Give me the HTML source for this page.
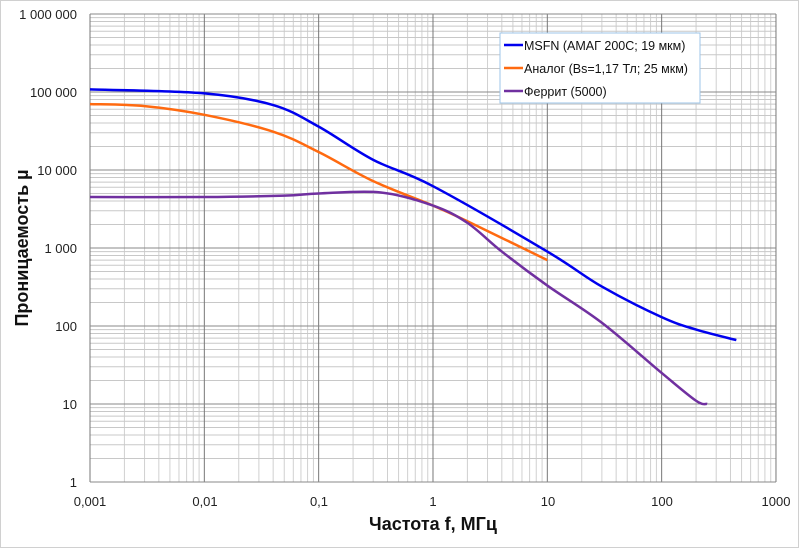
<!DOCTYPE html>
<html><head><meta charset="utf-8"><style>
body{margin:0;background:#fff;width:800px;height:549px;overflow:hidden}
svg{display:block;font-family:"Liberation Sans","DejaVu Sans",sans-serif}
</style></head><body>
<svg id="s" width="800" height="549" xmlns="http://www.w3.org/2000/svg">
<rect x="0.5" y="0.5" width="798" height="547" fill="#fff" stroke="#d0d0d0"/>
<g id="grid"></g>
<g id="curves"></g>
<g font-size="13" fill="#222" text-anchor="end">
<text x="77" y="19">1 000 000</text>
<text x="77" y="97">100 000</text>
<text x="77" y="175">10 000</text>
<text x="77" y="253">1 000</text>
<text x="77" y="331">100</text>
<text x="77" y="409">10</text>
<text x="77" y="487">1</text>
</g>
<g font-size="13" fill="#222" text-anchor="middle">
<text x="90" y="506">0,001</text>
<text x="205" y="506">0,01</text>
<text x="319" y="506">0,1</text>
<text x="433" y="506">1</text>
<text x="548" y="506">10</text>
<text x="662" y="506">100</text>
<text x="776" y="506">1000</text>
</g>
<text x="433" y="530" font-size="18" font-weight="bold" text-anchor="middle" fill="#111">Частота f, МГц</text>
<text transform="translate(28,248) rotate(-90)" font-size="18" font-weight="bold" text-anchor="middle" fill="#111">Проницаемость µ</text>
<rect x="500" y="33" width="200" height="70" fill="#fff" stroke="#9ec5e8"/>
<line x1="504" y1="45" x2="523" y2="45" stroke="#0000ee" stroke-width="2.5"/>
<line x1="504" y1="68" x2="523" y2="68" stroke="#ff6a10" stroke-width="2.5"/>
<line x1="504" y1="91" x2="523" y2="91" stroke="#7030a0" stroke-width="2.5"/>
<g font-size="12.5" fill="#111">
<text x="524" y="50">MSFN (АМАГ  200С; 19 мкм)</text>
<text x="524" y="73">Аналог (Bs=1,17  Тл; 25 мкм)</text>
<text x="524" y="96">Феррит (5000)</text>
</g>
</svg>
<script>
var X0=90,DX=114.33,Y0=482,DY=78;
function px(f){return X0+(Math.log10(f)+3)*DX}
function py(m){return Y0-Math.log10(m)*DY}
var g='';
for(var d=-3;d<3;d++)for(var k=2;k<10;k++){var x=px(k*Math.pow(10,d));g+='<line x1="'+x+'" y1="14" x2="'+x+'" y2="482" stroke="#d0d0d0"/>';}
for(var d=0;d<6;d++)for(var k=2;k<10;k++){var y=py(k*Math.pow(10,d));g+='<line x1="90" y1="'+y+'" x2="776" y2="'+y+'" stroke="#c8c8c8"/>';}
for(var d=-3;d<=3;d++){var x=px(Math.pow(10,d));g+='<line x1="'+x+'" y1="14" x2="'+x+'" y2="482" stroke="#777"/>';}
for(var d=0;d<=6;d++){var y=py(Math.pow(10,d));g+='<line x1="90" y1="'+y+'" x2="776" y2="'+y+'" stroke="#888"/>';}
document.getElementById('grid').innerHTML=g;
function path(pts,col){var P=pts.map(function(p){return[px(p[0]),py(p[1])]});var d='M'+P[0][0]+','+P[0][1];
for(var i=0;i<P.length-1;i++){var p0=P[Math.max(0,i-1)],p1=P[i],p2=P[i+1],p3=P[Math.min(P.length-1,i+2)];
d+=' C'+(p1[0]+(p2[0]-p0[0])/6)+','+(p1[1]+(p2[1]-p0[1])/6)+' '+(p2[0]-(p3[0]-p1[0])/6)+','+(p2[1]-(p3[1]-p1[1])/6)+' '+p2[0]+','+p2[1];}
return '<path d="'+d+'" fill="none" stroke="'+col+'" stroke-width="2.5" stroke-linejoin="round"/>';}
var c='';
c+=path([[0.001,108000],[0.01,96000],[0.04,68000],[0.1,36000],[0.3,13500],[1,6200],[10,900],[30,320],[100,130],[200,90],[450,66]],'#0000ee');
c+=path([[0.001,70000],[0.003,66000],[0.01,51000],[0.04,31000],[0.1,17000],[0.3,7200],[1,3500],[2,2200],[10,700]],'#ff6a10');
c+=path([[0.001,4500],[0.01,4500],[0.05,4700],[0.1,5000],[0.35,5150],[1,3500],[2,2100],[4,900],[10,330],[30,110],[100,25],[200,11],[250,10]],'#7030a0');
document.getElementById('curves').innerHTML=c;
</script>
</body></html>
